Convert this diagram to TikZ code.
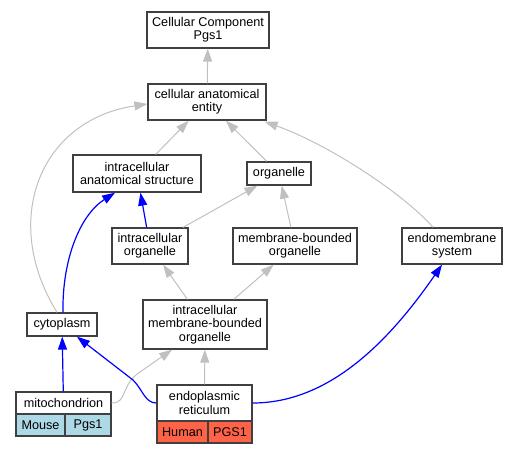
\documentclass[tikz,border=0pt]{standalone}
\usepackage{fontspec}
\setmainfont{Liberation Sans}
\usetikzlibrary{arrows.meta}

\definecolor{edgegray}{RGB}{192,192,192}
\definecolor{boxline}{RGB}{64,64,64}
\definecolor{mouseblue}{RGB}{173,216,230}
\definecolor{humanred}{RGB}{255,99,71}

\begin{document}
\begin{tikzpicture}[x=1bp, y=-1bp,
        term/.style={draw=boxline, line width=1.3bp, fill=white, inner sep=2bp, align=center,
            font=\fontsize{12.7}{13.3}\selectfont},
        cell/.style={term, minimum height=22bp},
        isa/.style={draw=edgegray, line width=1bp, -{Triangle[length=13bp, width=9bp]}},
        partof/.style={draw=blue, line width=1.2bp, -{Triangle[length=13bp, width=9bp]}}]
        
        \useasboundingbox (0,0) rectangle (517,453);
        
        \node[term, minimum width=122bp, minimum height=36bp] (cc) at (208,30) {Cellular Component\\Pgs1};
        \node[term, minimum width=118bp, minimum height=36bp] (cae) at (207,102) {cellular anatomical\\entity};
        \node[term, minimum width=128bp, minimum height=37bp] (ias) at (137,173.5) {intracellular\\anatomical structure};
        \node[term, minimum width=64bp, minimum height=23bp] (org) at (279,173.5) {organelle};
        \node[term, minimum width=76bp, minimum height=36bp] (io) at (150,246) {intracellular\\organelle};
        \node[term, minimum width=124bp, minimum height=36bp] (mbo) at (295,246) {membrane-bounded\\organelle};
        \node[term, minimum width=100bp, minimum height=36bp] (endo) at (452,246) {endomembrane\\system};
        \node[term, minimum width=124bp, minimum height=49bp] (imbo) at (205,324.5) {intracellular\\membrane-bounded\\organelle};
        \node[term, minimum width=70bp, minimum height=23bp] (cyto) at (62,324.5) {cytoplasm};
        
        \node[term, minimum width=95bp, minimum height=22bp] (mito) at (63.5,403) {mitochondrion};
        \node[cell, fill=mouseblue, minimum width=49bp] (mito-sp) at (40.5,425) {Mouse};
        \node[cell, fill=mouseblue, minimum width=46bp] (mito-gene) at (88,425) {Pgs1};
        
        \node[term, minimum width=95bp, minimum height=36bp] (er) at (204.5,403) {endoplasmic\\reticulum};
        \node[cell, fill=humanred, minimum width=51bp] (er-sp) at (182.5,432) {Human};
        \node[cell, fill=humanred, minimum width=44bp] (er-gene) at (230,432) {PGS1};
        
        \foreach \a / \b in {cae/cc, ias/cae, org/cae, io/org, mbo/org, imbo/io, imbo/mbo, er/imbo}
            \path (\a) edge[isa] (\b);
        
        \foreach \a / \b in {io/ias, mito/cyto}
            \path (\a) edge[partof] (\b);
        
        % curved links
        \draw[isa] ([xshift=-5]cyto.north) .. controls (0,220) and (40,120) .. ([yshift=-2]cae.west);
        \draw[isa] ([xshift=-19]endo.north) .. controls (405,195) and (330,145) .. ([xshift=-2, yshift=-1]cae.south east);
        \draw[isa] (mito.east) .. controls (128,403) and (120,385) .. (140,372) -- ([xshift=-33]imbo.south);
        \draw[partof] ([xshift=1]cyto.north) .. controls (62,260) and (80,215) .. ([xshift=-22]ias.south);
        \draw[partof] (er.west) .. controls (145,403) and (143,390) .. (133,380) -- ([xshift=15]cyto.south);
        \draw[partof] (er.east) .. controls (330,403) and (390,340) .. ([xshift=-10]endo.south);
        
    \end{tikzpicture}
\end{document}
